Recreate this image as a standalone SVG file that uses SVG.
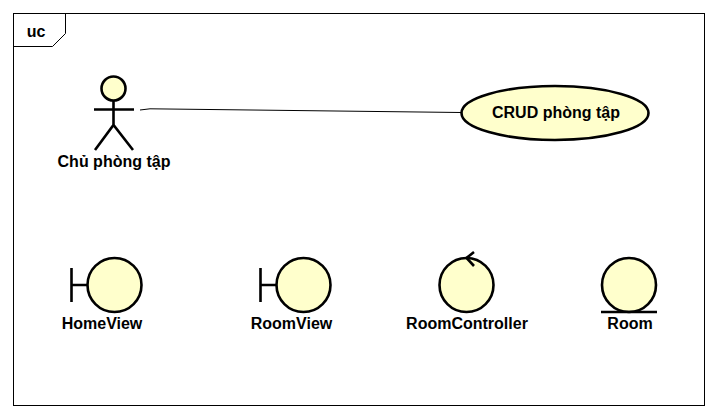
<svg xmlns="http://www.w3.org/2000/svg" width="717" height="418" viewBox="0 0 717 418">
<style>
.s{fill:#ffffcc;stroke:#000;stroke-width:2.6}
.l{fill:none;stroke:#000;stroke-width:2.6}
.t{font-family:"Liberation Sans",Arial,sans-serif;font-size:16px;font-weight:bold;fill:#000;text-anchor:middle;stroke:none}
</style>
<rect width="717" height="418" fill="#fff"/>
<g id="frame">
<rect x="13.500" y="13.500" width="691" height="392" fill="none" stroke="#000" stroke-width="1"/>
<path d="M13.500 46.500H52.500L65.500 33.500V13.500" fill="none" stroke="#000" stroke-width="1"/>
<text class="t" x="36" y="37">uc</text>
</g>
<g id="connectors">
<path d="M140 110L150 108.800L461 112.500" fill="none" stroke="#000" stroke-width="1"/>
</g>
<g id="actor">
<circle class="s" cx="113.500" cy="88.500" r="12"/>
<path class="l" d="M113.500 101V125M94 109.500H134M95 150L113.500 125L133 150"/>
<text class="t" x="114" y="167">Chủ phòng tập</text>
</g>
<g id="usecase">
<ellipse class="s" cx="555" cy="113" rx="93.500" ry="27"/>
<text class="t" x="556" y="118">CRUD phòng tập</text>
</g>
<g id="homeview">
<circle class="s" cx="114.500" cy="285" r="27"/>
<path class="l" d="M71.500 268V302M71.500 285H87"/>
<text class="t" x="102" y="329">HomeView</text>
</g>
<g id="roomview">
<circle class="s" cx="303.500" cy="285" r="27"/>
<path class="l" d="M260.500 268V302M260.500 285H276"/>
<text class="t" x="291.500" y="329">RoomView</text>
</g>
<g id="roomcontroller">
<circle class="s" cx="466.500" cy="285" r="27"/>
<path class="l" d="M474 252L466.500 258L474 266"/>
<text class="t" x="467" y="329">RoomController</text>
</g>
<g id="room">
<circle class="s" cx="629" cy="285" r="27"/>
<path class="l" d="M601 312H657"/>
<text class="t" x="630" y="329">Room</text>
</g>
</svg>
